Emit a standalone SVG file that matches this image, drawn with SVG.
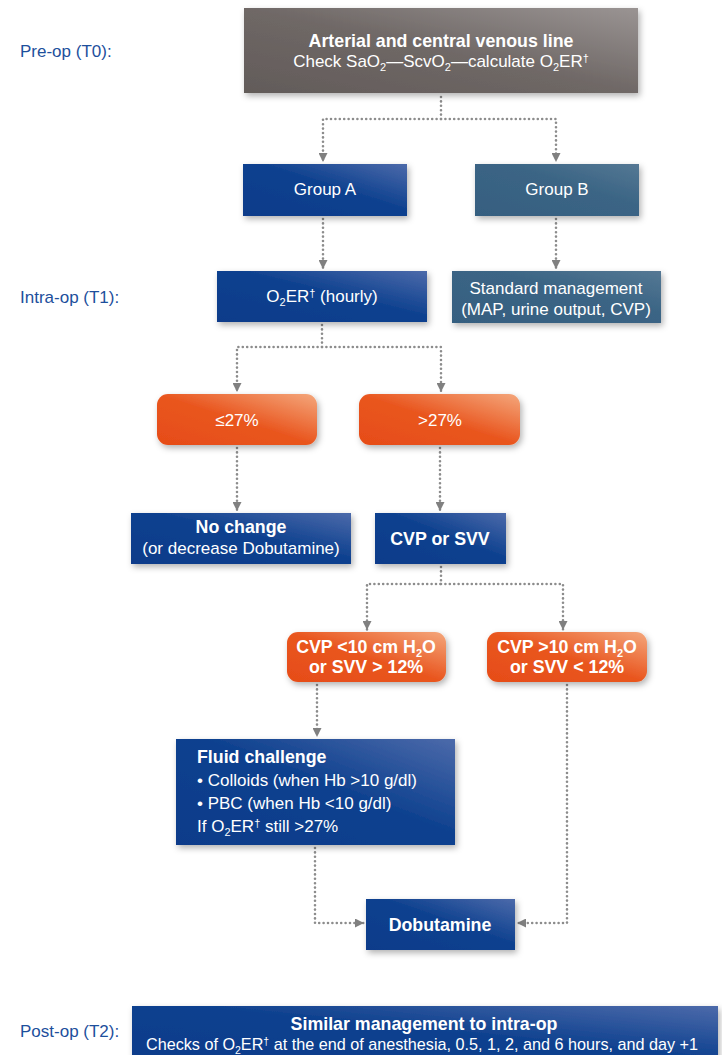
<svg xmlns="http://www.w3.org/2000/svg" width="722" height="1055" viewBox="0 0 722 1055">
<style>
.lbl{font-family:"Liberation Sans",Arial,sans-serif;font-size:17px;fill:#1d4f9c}
.t{font-family:"Liberation Sans",Arial,sans-serif;font-size:17px;fill:#ffffff}
.c{text-anchor:middle}
.b{font-weight:bold;font-size:17.8px}
.conn{fill:none;stroke:#8c8c8c;stroke-width:2.6;stroke-linecap:round;stroke-dasharray:0 4.4}
</style>
<defs>
<linearGradient id="gBlue" x1="0" y1="1" x2="1" y2="0">
<stop offset="0" stop-color="#0a3b8a"/>
<stop offset="0.55" stop-color="#0e418f"/>
<stop offset="1" stop-color="#4c6aaa"/>
</linearGradient>
<linearGradient id="gSteel" x1="0" y1="1" x2="1" y2="0">
<stop offset="0" stop-color="#365f80"/>
<stop offset="0.6" stop-color="#3b6585"/>
<stop offset="1" stop-color="#557894"/>
</linearGradient>
<linearGradient id="gGrey" x1="0" y1="1" x2="1" y2="0">
<stop offset="0" stop-color="#625b59"/>
<stop offset="0.5" stop-color="#6f6866"/>
<stop offset="1" stop-color="#9a9493"/>
</linearGradient>
<linearGradient id="gOrange" x1="0" y1="1" x2="1" y2="0">
<stop offset="0" stop-color="#e64c18"/>
<stop offset="0.5" stop-color="#e9561f"/>
<stop offset="1" stop-color="#f4a77c"/>
</linearGradient>
<filter id="sh" x="-10%" y="-20%" width="125%" height="150%">
<feDropShadow dx="2" dy="3" stdDeviation="3" flood-color="#000" flood-opacity="0.3"/>
</filter>
<marker id="arr" viewBox="0 0 10 10" refX="10" refY="5" markerWidth="9" markerHeight="9" orient="auto" markerUnits="userSpaceOnUse">
<path d="M0,0 L10,5 L0,10 z" fill="#808080"/>
</marker>
</defs>
<rect width="722" height="1055" fill="#ffffff"/>

<g id="labels">
<text class="lbl" x="20" y="57">Pre-op (T0):</text>
<text class="lbl" x="20" y="303">Intra-op (T1):</text>
<text class="lbl" x="20" y="1037">Post-op (T2):</text>
</g>

<g id="connectors">
<path class="conn" d="M441 97 V119 H323 V162" marker-end="url(#arr)"/>
<path class="conn" d="M441 119 H556 V162" marker-end="url(#arr)"/>
<path class="conn" d="M323 219 V269" marker-end="url(#arr)"/>
<path class="conn" d="M556 219 V269" marker-end="url(#arr)"/>
<path class="conn" d="M322 325 V347 H237 V392" marker-end="url(#arr)"/>
<path class="conn" d="M322 347 H441 V392" marker-end="url(#arr)"/>
<path class="conn" d="M237 448 V511" marker-end="url(#arr)"/>
<path class="conn" d="M440 448 V511" marker-end="url(#arr)"/>
<path class="conn" d="M441 567 V584 H367 V630" marker-end="url(#arr)"/>
<path class="conn" d="M441 584 H563 V630" marker-end="url(#arr)"/>
<path class="conn" d="M317 685 V737" marker-end="url(#arr)"/>
<path class="conn" d="M315 848 V923 H364" marker-end="url(#arr)"/>
<path class="conn" d="M567 685 V923 H517" marker-end="url(#arr)"/>
</g>

<g id="n-top">
<rect x="244" y="8" width="394" height="85" fill="url(#gGrey)" filter="url(#sh)"/>
<text class="t c b" x="441" y="47">Arterial and central venous line</text>
<text class="t c" x="441" y="67">Check SaO<tspan font-size="11" dy="4">2</tspan><tspan dy="-4">—ScvO</tspan><tspan font-size="11" dy="4">2</tspan><tspan dy="-4">—calculate O</tspan><tspan font-size="11" dy="4">2</tspan><tspan dy="-4">ER</tspan><tspan font-size="11" dy="-5">†</tspan></text>
</g>

<g id="n-groupA">
<rect x="243" y="164" width="164" height="52" fill="url(#gBlue)" filter="url(#sh)"/>
<text class="t c" x="325" y="195">Group A</text>
</g>

<g id="n-groupB">
<rect x="475" y="164" width="164" height="52" fill="url(#gSteel)" filter="url(#sh)"/>
<text class="t c" x="557" y="195">Group B</text>
</g>

<g id="n-o2er">
<rect x="217" y="271" width="210" height="51" fill="url(#gBlue)" filter="url(#sh)"/>
<text class="t c" x="322" y="302">O<tspan font-size="11" dy="4">2</tspan><tspan dy="-4">ER</tspan><tspan font-size="11" dy="-5">†</tspan><tspan dy="5"> (hourly)</tspan></text>
</g>

<g id="n-standard">
<rect x="452" y="271" width="209" height="52" fill="url(#gSteel)" filter="url(#sh)"/>
<text class="t c" x="556" y="294">Standard management</text>
<text class="t c" x="556" y="315">(MAP, urine output, CVP)</text>
</g>

<g id="n-le27">
<rect x="157" y="394" width="160" height="51" rx="11" fill="url(#gOrange)" filter="url(#sh)"/>
<text class="t c" x="237" y="426">≤27%</text>
</g>

<g id="n-gt27">
<rect x="359" y="394" width="161" height="51" rx="11" fill="url(#gOrange)" filter="url(#sh)"/>
<text class="t c" x="440" y="426">&gt;27%</text>
</g>

<g id="n-nochange">
<rect x="131" y="513" width="220" height="51" fill="url(#gBlue)" filter="url(#sh)"/>
<text class="t c b" x="241" y="533">No change</text>
<text class="t c" x="241" y="554">(or decrease Dobutamine)</text>
</g>

<g id="n-cvpsvv">
<rect x="375" y="513" width="131" height="51" fill="url(#gBlue)" filter="url(#sh)"/>
<text class="t c b" x="440" y="545">CVP or SVV</text>
</g>

<g id="n-cvplow">
<rect x="287" y="632" width="159" height="50" rx="11" fill="url(#gOrange)" filter="url(#sh)"/>
<text class="t c b" x="366" y="653">CVP &lt;10 cm H<tspan font-size="11" dy="4">2</tspan><tspan dy="-4">O</tspan></text>
<text class="t c b" x="366" y="673">or SVV &gt; 12%</text>
</g>

<g id="n-cvphigh">
<rect x="487" y="632" width="160" height="50" rx="11" fill="url(#gOrange)" filter="url(#sh)"/>
<text class="t c b" x="567" y="653">CVP &gt;10 cm H<tspan font-size="11" dy="4">2</tspan><tspan dy="-4">O</tspan></text>
<text class="t c b" x="567" y="673">or SVV &lt; 12%</text>
</g>

<g id="n-fluid">
<rect x="176" y="739" width="279" height="106" fill="url(#gBlue)" filter="url(#sh)"/>
<text class="t b" x="197" y="763">Fluid challenge</text>
<text class="t" x="197" y="786">• Colloids (when Hb &gt;10 g/dl)</text>
<text class="t" x="197" y="809">• PBC (when Hb &lt;10 g/dl)</text>
<text class="t" x="197" y="832">If O<tspan font-size="11" dy="4">2</tspan><tspan dy="-4">ER</tspan><tspan font-size="11" dy="-5">†</tspan><tspan dy="5"> still &gt;27%</tspan></text>
</g>

<g id="n-dobutamine">
<rect x="366" y="899" width="149" height="51" fill="url(#gBlue)" filter="url(#sh)"/>
<text class="t c b" x="440" y="931">Dobutamine</text>
</g>

<g id="n-post">
<rect x="132" y="1006" width="586" height="60" fill="url(#gBlue)" filter="url(#sh)"/>
<text class="t c b" x="424" y="1030">Similar management to intra-op</text>
<text class="t c" x="422" y="1050" style="font-size:16.2px">Checks of O<tspan font-size="10.5" dy="4">2</tspan><tspan dy="-4">ER</tspan><tspan font-size="10.5" dy="-5">†</tspan><tspan dy="5"> at the end of anesthesia, 0.5, 1, 2, and 6 hours, and day +1</tspan></text>
</g>
</svg>
